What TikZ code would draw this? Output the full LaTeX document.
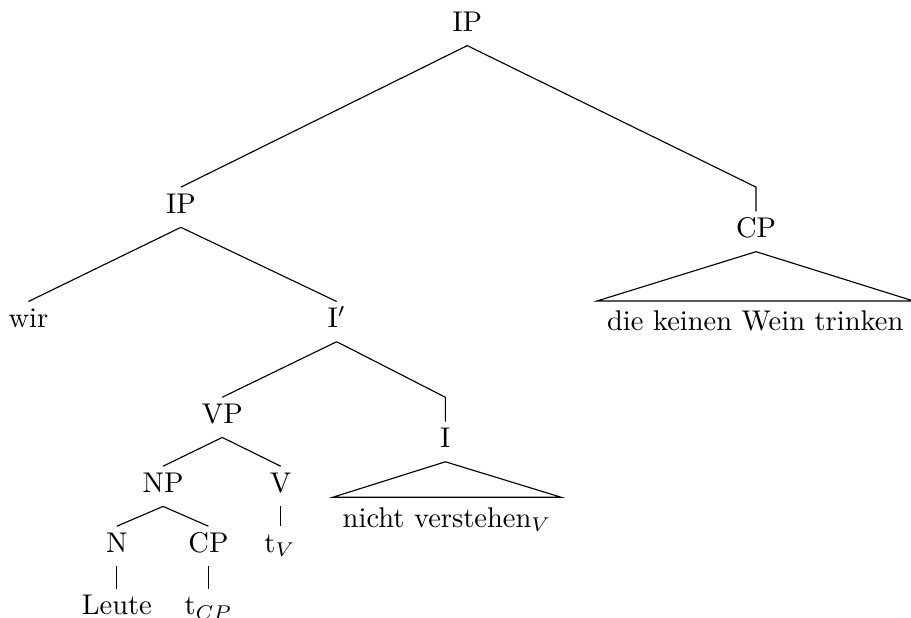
\documentclass[tikz,border=0pt]{standalone}
\usepackage{tikz}
\usetikzlibrary{positioning}

\begin{document}
\begin{tikzpicture}[
            cat/.style={inner sep=2pt, text height=7pt, text depth=2.7pt, anchor=base},
            word/.style={inner sep=2pt, text height=7pt, text depth=2.7pt, anchor=base},
            roof/.style={inner sep=3.33pt, text height=7pt, text depth=2.7pt, anchor=base},
            branch/.style={thin, black}
        ]
            \useasboundingbox (0,0) rectangle (11.23,-7.61);

            % --- ノード ---
            \node[cat] (ipA) at (5.76,-0.39) {IP};
            \node[cat] (ipB) at (2.23,-2.63) {IP};
            \node[cat] (cpA) at (9.32,-2.93) {CP};
            \node[roof] (roofA) at (9.31,-4.08) {die keinen Wein trinken};
            \node[word] (wir) at (0.35,-4.04) {wir};
            \node[cat] (ibar) at (4.15,-4.04) {I$'$};
            \node[cat] (vp) at (2.74,-5.22) {VP};
            \node[cat] (iA) at (5.49,-5.52) {I};
            \node[roof] (roofB) at (5.51,-6.50) {nicht verstehen$_V$};
            \node[cat] (np) at (2.01,-6.07) {NP};
            \node[cat] (v) at (3.46,-6.07) {V};
            \node[cat] (n) at (1.44,-6.81) {N};
            \node[cat] (cpB) at (2.57,-6.81) {CP};
            \node[word] (tv) at (3.45,-6.81) {t$_V$};
            \node[word] (leute) at (1.44,-7.58) {Leute};
            \node[word] (tcp) at (2.57,-7.58) {t$_{CP}$};

            % --- 枝 ---
            \draw[branch] (ipA.south) -- (ipB.north);
            \draw[branch] (ipA.south) -- (cpA.north |- ipB.north) -- (cpA.north);
            \draw[branch] (ipB.south) -- (wir.north);
            \draw[branch] (ipB.south) -- (ibar.north);
            \draw[branch] (ibar.south) -- (vp.north);
            \draw[branch] (ibar.south) -- (iA.north |- vp.north) -- (iA.north);
            \draw[branch] (vp.south) -- (np.north);
            \draw[branch] (vp.south) -- (v.north);
            \draw[branch] (np.south) -- (n.north);
            \draw[branch] (np.south) -- (cpB.north);
            % 単一の子は縦線
            \draw[branch] (v.south) -- (v.south |- tv.north);
            \draw[branch] (n.south) -- (leute.north);
            \draw[branch] (cpB.south) -- (tcp.north);

            % 三角形 (roof)
            \draw[branch] (cpA.south) -- (roofA.north west) -- (roofA.north east) -- cycle;
            \draw[branch] (iA.south) -- (roofB.north west) -- (roofB.north east) -- cycle;
        \end{tikzpicture}
\end{document}
